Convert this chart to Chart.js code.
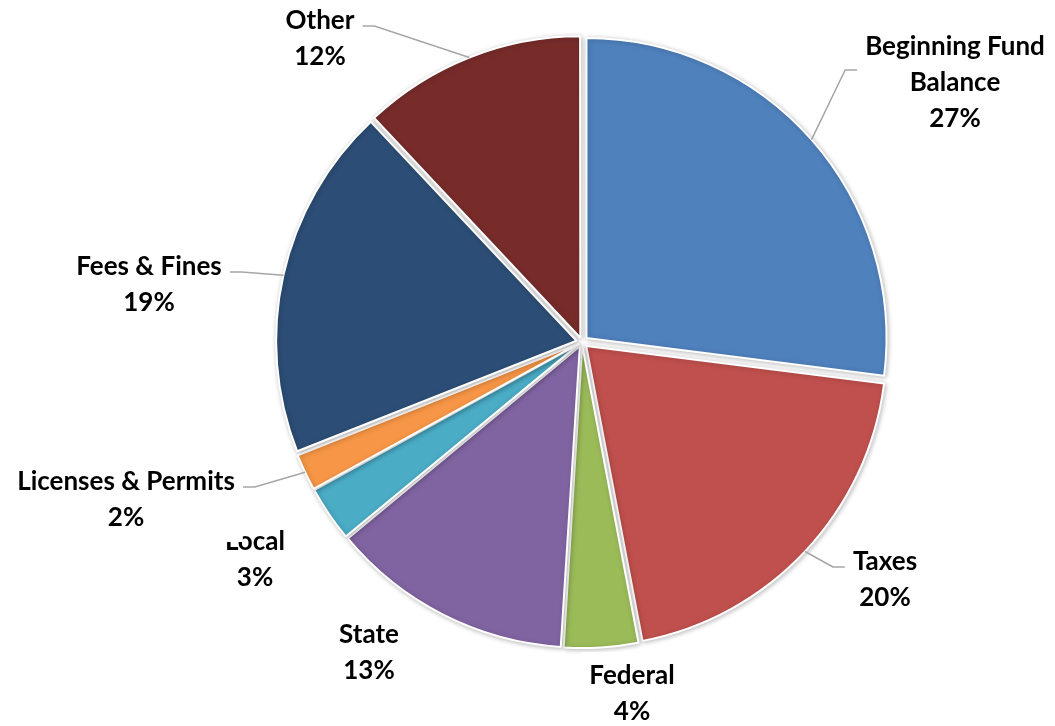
<!DOCTYPE html>
<html>
<head>
<meta charset="utf-8">
<title>Revenue Sources</title>
<script src="https://cdn.jsdelivr.net/npm/chart.js@4.4.0/dist/chart.umd.min.js"></script>
<style>
  html, body { margin: 0; padding: 0; background: #fff; }
  #wrap { width: 1055px; height: 726px; }
</style>
</head>
<body>
<div id="wrap"><canvas id="chart" width="1055" height="726"></canvas></div>
<script>
const categories = [['Beginning Fund', 'Balance'], 'Taxes', 'Federal', 'State', 'Local', 'Licenses & Permits', 'Fees & Fines', 'Other'];
const shares = [27, 20, 4, 13, 3, 2, 19, 12];
const sliceColors = ['#4F81BD', '#C0504D', '#9BBB59', '#8064A2', '#4BACC6', '#F79646', '#2C4D75', '#772C2A'];

// label centres, measured from the pie centre; leader = draw a callout line to the slice
const labelSpots = [
  { dx: 373, dy: -259, leader: true },
  { dx: 303, dy: 238, leader: true },
  { dx: 50, dy: 352, leader: false },
  { dx: -213, dy: 311, leader: false },
  { dx: -327, dy: 218, leader: false },
  { dx: -456, dy: 158, leader: true },
  { dx: -433, dy: -57, leader: true },
  { dx: -262, dy: -303, leader: true }
];

const LABEL_FONT = 'bold 26px Lato, "DejaVu Sans", sans-serif';
const LINE_H = 36;
const EXPLODE = 6; // how far every slice is pulled out from the centre, px

const total = shares.reduce((a, b) => a + b, 0);

// Chart.js moves an arc by offset/4 * (1 + (1 - sin(angle))), so undo that
// to get the same pull-out distance for every slice
function sliceOffset(ctx) {
  const angle = shares[ctx.dataIndex] / total * 2 * Math.PI;
  const fix = 1 - Math.sin(Math.min(Math.PI, angle));
  return 4 * EXPLODE / (1 + fix);
}

// soft drop shadow under the slices
const sliceShadow = {
  id: 'sliceShadow',
  beforeDatasetsDraw(chart) {
    const ctx = chart.ctx;
    ctx.save();
    ctx.shadowColor = 'rgba(0, 0, 0, 0.25)';
    ctx.shadowBlur = 5;
    ctx.shadowOffsetX = 1;
    ctx.shadowOffsetY = 1;
  },
  afterDatasetsDraw(chart) {
    chart.ctx.restore();
  }
};

// name + percentage labels with white boxes and grey leader lines
const sliceLabels = {
  id: 'sliceLabels',
  afterDraw(chart) {
    const ctx = chart.ctx;
    const meta = chart.getDatasetMeta(0);
    ctx.save();
    ctx.font = LABEL_FONT;
    ctx.textAlign = 'center';
    ctx.textBaseline = 'middle';

    meta.data.forEach((arc, i) => {
      const { x, y, startAngle, endAngle, outerRadius } =
        arc.getProps(['x', 'y', 'startAngle', 'endAngle', 'outerRadius'], true);
      const spot = labelSpots[i];
      const lines = [].concat(categories[i], Math.round(shares[i] / total * 100) + '%');
      const cx = x + spot.dx;
      const cy = y + spot.dy;
      const top = cy - (lines.length - 1) * LINE_H / 2;
      const halfW = Math.max(...lines.map(l => ctx.measureText(l).width)) / 2;

      if (spot.leader) {
        const mid = (startAngle + endAngle) / 2;
        const r = outerRadius + EXPLODE;
        const ex = x + Math.cos(mid) * r;
        const ey = y + Math.sin(mid) * r;
        const side = cx > x ? -1 : 1;
        const endX = cx + side * (halfW + 8);
        const ly = cy - 13;
        ctx.beginPath();
        ctx.moveTo(ex, ey);
        ctx.lineTo(endX + side * 12, ly);
        ctx.lineTo(endX, ly);
        ctx.strokeStyle = '#A6A6A6';
        ctx.lineWidth = 1.5;
        ctx.stroke();
      }

      ctx.fillStyle = '#fff';
      ctx.fillRect(cx - halfW - 8, top - LINE_H / 2 - 6, 2 * halfW + 16, lines.length * LINE_H + 12);
      ctx.fillStyle = '#000';
      lines.forEach((l, k) => ctx.fillText(l, cx, top + k * LINE_H));
    });
    ctx.restore();
  }
};

function draw() {
  new Chart(document.getElementById('chart'), {
    type: 'pie',
    data: {
      labels: categories,
      datasets: [{
        data: shares,
        backgroundColor: sliceColors,
        borderColor: '#fff',
        borderWidth: 2,
        offset: sliceOffset
      }]
    },
    options: {
      responsive: false,
      animation: false,
      events: [],
      radius: 300,
      layout: { padding: { left: 109, right: 0, top: 0, bottom: 42 } },
      plugins: {
        legend: { display: false },
        tooltip: { enabled: false }
      }
    },
    plugins: [sliceShadow, sliceLabels]
  });
}

document.fonts.load(LABEL_FONT).then(draw, draw);
</script>
</body>
</html>
